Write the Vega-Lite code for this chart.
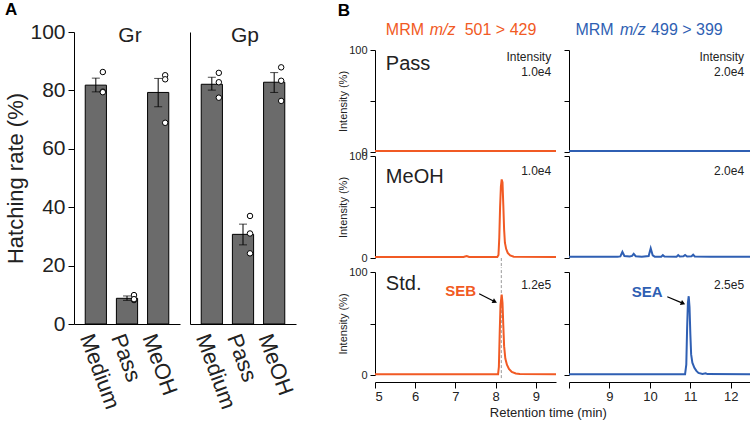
{
  "$schema": "https://vega.github.io/schema/vega-lite/v6.json",
  "background": "white",
  "padding": {"left": 4, "top": 1, "right": 0, "bottom": 0},
  "config": {
    "font": "Liberation Sans",
    "view": {"stroke": null},
    "axis": {"grid": false, "domainColor": "#000", "tickColor": "#000", "labelColor": "#222", "titleColor": "#222", "titleFontWeight": "normal", "labelFont": "Liberation Sans", "titleFont": "Liberation Sans"},
    "title": {"font": "Liberation Sans", "color": "#000"}
  },
  "datasets": {
    "bars": [
      {"group": "Gr", "treatment": "Medium", "mean": 81.8, "lo": 79.5, "hi": 84.2},
      {"group": "Gr", "treatment": "Pass", "mean": 8.8, "lo": 8.1, "hi": 9.6},
      {"group": "Gr", "treatment": "MeOH", "mean": 79.3, "lo": 74.4, "hi": 84.1},
      {"group": "Gp", "treatment": "Medium", "mean": 82.1, "lo": 80.1, "hi": 84.5},
      {"group": "Gp", "treatment": "Pass", "mean": 30.7, "lo": 27.1, "hi": 34.2},
      {"group": "Gp", "treatment": "MeOH", "mean": 82.8, "lo": 79.3, "hi": 86.1}
    ],
    "pts": [
      {"group": "Gr", "treatment": "Medium", "value": 86.3},
      {"group": "Gr", "treatment": "Medium", "value": 79.6},
      {"group": "Gr", "treatment": "Medium", "value": 79.4},
      {"group": "Gr", "treatment": "Pass", "value": 9.9},
      {"group": "Gr", "treatment": "Pass", "value": 8.2},
      {"group": "Gr", "treatment": "Pass", "value": 8.5},
      {"group": "Gr", "treatment": "MeOH", "value": 85.2},
      {"group": "Gr", "treatment": "MeOH", "value": 83.8},
      {"group": "Gr", "treatment": "MeOH", "value": 68.9},
      {"group": "Gp", "treatment": "Medium", "value": 86.0},
      {"group": "Gp", "treatment": "Medium", "value": 82.8},
      {"group": "Gp", "treatment": "Medium", "value": 77.5},
      {"group": "Gp", "treatment": "Pass", "value": 37.0},
      {"group": "Gp", "treatment": "Pass", "value": 31.0},
      {"group": "Gp", "treatment": "Pass", "value": 24.2},
      {"group": "Gp", "treatment": "MeOH", "value": 87.9},
      {"group": "Gp", "treatment": "MeOH", "value": 83.3},
      {"group": "Gp", "treatment": "MeOH", "value": 76.4}
    ],
    "chrom": [
      {"row": "Pass", "ch": "SEB", "t": 5, "v": 1}, {"row": "Pass", "ch": "SEB", "t": 6, "v": 1.1}, {"row": "Pass", "ch": "SEB", "t": 7, "v": 0.9}, {"row": "Pass", "ch": "SEB", "t": 8, "v": 1}, {"row": "Pass", "ch": "SEB", "t": 9, "v": 1.1}, {"row": "Pass", "ch": "SEB", "t": 9.5, "v": 1},
      {"row": "Pass", "ch": "SEA", "t": 8, "v": 1}, {"row": "Pass", "ch": "SEA", "t": 9, "v": 1.1}, {"row": "Pass", "ch": "SEA", "t": 10, "v": 0.9}, {"row": "Pass", "ch": "SEA", "t": 11, "v": 1}, {"row": "Pass", "ch": "SEA", "t": 12, "v": 1.1}, {"row": "Pass", "ch": "SEA", "t": 12.5, "v": 1},
      {"row": "MeOH", "ch": "SEB", "t": 5, "v": 1}, {"row": "MeOH", "ch": "SEB", "t": 7.2, "v": 1}, {"row": "MeOH", "ch": "SEB", "t": 7.28, "v": 2}, {"row": "MeOH", "ch": "SEB", "t": 7.34, "v": 1}, {"row": "MeOH", "ch": "SEB", "t": 8.04, "v": 1}, {"row": "MeOH", "ch": "SEB", "t": 8.07, "v": 3}, {"row": "MeOH", "ch": "SEB", "t": 8.09, "v": 20}, {"row": "MeOH", "ch": "SEB", "t": 8.11, "v": 50}, {"row": "MeOH", "ch": "SEB", "t": 8.13, "v": 70}, {"row": "MeOH", "ch": "SEB", "t": 8.15, "v": 77}, {"row": "MeOH", "ch": "SEB", "t": 8.17, "v": 74}, {"row": "MeOH", "ch": "SEB", "t": 8.19, "v": 52}, {"row": "MeOH", "ch": "SEB", "t": 8.21, "v": 28}, {"row": "MeOH", "ch": "SEB", "t": 8.23, "v": 15}, {"row": "MeOH", "ch": "SEB", "t": 8.26, "v": 9}, {"row": "MeOH", "ch": "SEB", "t": 8.3, "v": 5}, {"row": "MeOH", "ch": "SEB", "t": 8.36, "v": 2.5}, {"row": "MeOH", "ch": "SEB", "t": 8.45, "v": 1.2}, {"row": "MeOH", "ch": "SEB", "t": 9.5, "v": 1},
      {"row": "MeOH", "ch": "SEA", "t": 8, "v": 1.2}, {"row": "MeOH", "ch": "SEA", "t": 9.2, "v": 1.2}, {"row": "MeOH", "ch": "SEA", "t": 9.27, "v": 1.6}, {"row": "MeOH", "ch": "SEA", "t": 9.32, "v": 6}, {"row": "MeOH", "ch": "SEA", "t": 9.37, "v": 2}, {"row": "MeOH", "ch": "SEA", "t": 9.5, "v": 1.5}, {"row": "MeOH", "ch": "SEA", "t": 9.56, "v": 2}, {"row": "MeOH", "ch": "SEA", "t": 9.6, "v": 4}, {"row": "MeOH", "ch": "SEA", "t": 9.65, "v": 1.8}, {"row": "MeOH", "ch": "SEA", "t": 9.8, "v": 1.3}, {"row": "MeOH", "ch": "SEA", "t": 9.97, "v": 2}, {"row": "MeOH", "ch": "SEA", "t": 10.02, "v": 9.5}, {"row": "MeOH", "ch": "SEA", "t": 10.07, "v": 2.5}, {"row": "MeOH", "ch": "SEA", "t": 10.12, "v": 1.3}, {"row": "MeOH", "ch": "SEA", "t": 10.28, "v": 1.3}, {"row": "MeOH", "ch": "SEA", "t": 10.32, "v": 2.8}, {"row": "MeOH", "ch": "SEA", "t": 10.36, "v": 1.4}, {"row": "MeOH", "ch": "SEA", "t": 10.66, "v": 1.3}, {"row": "MeOH", "ch": "SEA", "t": 10.7, "v": 2.8}, {"row": "MeOH", "ch": "SEA", "t": 10.74, "v": 1.5}, {"row": "MeOH", "ch": "SEA", "t": 10.83, "v": 1.7}, {"row": "MeOH", "ch": "SEA", "t": 10.87, "v": 3}, {"row": "MeOH", "ch": "SEA", "t": 10.92, "v": 1.5}, {"row": "MeOH", "ch": "SEA", "t": 11.03, "v": 1.7}, {"row": "MeOH", "ch": "SEA", "t": 11.07, "v": 3.2}, {"row": "MeOH", "ch": "SEA", "t": 11.11, "v": 1.5}, {"row": "MeOH", "ch": "SEA", "t": 11.5, "v": 1.3}, {"row": "MeOH", "ch": "SEA", "t": 12.5, "v": 1.2},
      {"row": "Std", "ch": "SEB", "t": 5, "v": 0.8}, {"row": "Std", "ch": "SEB", "t": 8.06, "v": 0.8}, {"row": "Std", "ch": "SEB", "t": 8.08, "v": 8}, {"row": "Std", "ch": "SEB", "t": 8.1, "v": 40}, {"row": "Std", "ch": "SEB", "t": 8.12, "v": 68}, {"row": "Std", "ch": "SEB", "t": 8.15, "v": 78}, {"row": "Std", "ch": "SEB", "t": 8.17, "v": 70}, {"row": "Std", "ch": "SEB", "t": 8.19, "v": 48}, {"row": "Std", "ch": "SEB", "t": 8.21, "v": 28}, {"row": "Std", "ch": "SEB", "t": 8.24, "v": 16}, {"row": "Std", "ch": "SEB", "t": 8.28, "v": 10}, {"row": "Std", "ch": "SEB", "t": 8.33, "v": 6}, {"row": "Std", "ch": "SEB", "t": 8.4, "v": 3}, {"row": "Std", "ch": "SEB", "t": 8.5, "v": 1.5}, {"row": "Std", "ch": "SEB", "t": 8.6, "v": 1}, {"row": "Std", "ch": "SEB", "t": 9.5, "v": 0.8},
      {"row": "Std", "ch": "SEA", "t": 8, "v": 0.8}, {"row": "Std", "ch": "SEA", "t": 10.87, "v": 0.8}, {"row": "Std", "ch": "SEA", "t": 10.9, "v": 10}, {"row": "Std", "ch": "SEA", "t": 10.92, "v": 45}, {"row": "Std", "ch": "SEA", "t": 10.94, "v": 70}, {"row": "Std", "ch": "SEA", "t": 10.96, "v": 76.5}, {"row": "Std", "ch": "SEA", "t": 10.98, "v": 66}, {"row": "Std", "ch": "SEA", "t": 11.0, "v": 40}, {"row": "Std", "ch": "SEA", "t": 11.02, "v": 20}, {"row": "Std", "ch": "SEA", "t": 11.05, "v": 12}, {"row": "Std", "ch": "SEA", "t": 11.1, "v": 7}, {"row": "Std", "ch": "SEA", "t": 11.15, "v": 4}, {"row": "Std", "ch": "SEA", "t": 11.2, "v": 2}, {"row": "Std", "ch": "SEA", "t": 11.3, "v": 1}, {"row": "Std", "ch": "SEA", "t": 11.38, "v": 1.6}, {"row": "Std", "ch": "SEA", "t": 11.42, "v": 0.9}, {"row": "Std", "ch": "SEA", "t": 12.5, "v": 0.8}
    ]
  },
  "hconcat": [
    {
      "title": {"text": "A", "anchor": "start", "fontSize": 17, "fontWeight": "bold", "offset": 2},
      "spacing": 10,
      "bounds": "flush",
      "hconcat": [
        {
          "width": 106, "height": 292,
          "layer": [
            {"data": {"name": "bars"}, "transform": [{"filter": "datum.group === 'Gr'"}],
             "mark": {"type": "bar", "color": "#6b6b6b", "stroke": "#000", "strokeWidth": 1},
             "encoding": {
               "x": {"field": "treatment", "type": "nominal", "sort": ["Medium", "Pass", "MeOH"], "scale": {"paddingInner": 0.32, "paddingOuter": 0.36}, "axis": {"title": null, "labelAngle": 70, "labelAlign": "left", "labelBaseline": "top", "labelFontSize": 22, "ticks": false, "labelPadding": 7}},
               "y": {"field": "mean", "type": "quantitative", "scale": {"domain": [0, 100], "nice": false}, "axis": {"values": [0, 20, 40, 60, 80, 100], "tickSize": 6, "labelFontSize": 21, "labelPadding": 3, "title": "Hatching rate (%)", "titleFontSize": 22, "titlePadding": 2}}
             }},
            {"data": {"name": "bars"}, "transform": [{"filter": "datum.group === 'Gr'"}],
             "mark": {"type": "rule", "color": "#000", "strokeWidth": 1},
             "encoding": {"x": {"field": "treatment", "type": "nominal", "sort": ["Medium", "Pass", "MeOH"]}, "y": {"field": "lo", "type": "quantitative"}, "y2": {"field": "hi"}}},
            {"data": {"name": "bars"}, "transform": [{"filter": "datum.group === 'Gr'"}, {"fold": ["lo", "hi"], "as": ["k", "e"]}],
             "mark": {"type": "tick", "color": "#000", "size": 8, "thickness": 1},
             "encoding": {"x": {"field": "treatment", "type": "nominal", "sort": ["Medium", "Pass", "MeOH"]}, "y": {"field": "e", "type": "quantitative"}}},
            {"data": {"name": "pts"}, "transform": [{"filter": "datum.group === 'Gr'"}],
             "mark": {"type": "point", "filled": true, "fill": "#fff", "stroke": "#000", "strokeWidth": 1, "size": 30, "opacity": 1, "xOffset": 7},
             "encoding": {"x": {"field": "treatment", "type": "nominal", "sort": ["Medium", "Pass", "MeOH"]}, "y": {"field": "value", "type": "quantitative"}}},
            {"data": {"values": [{}]},
             "mark": {"type": "text", "fontSize": 21, "baseline": "alphabetic", "font": "Liberation Sans", "color": "#222", "dx": 3},
             "encoding": {"x": {"datum": "Pass"}, "y": {"datum": 96.7}, "text": {"value": "Gr"}}}
          ]
        },
        {
          "width": 106, "height": 292,
          "layer": [
            {"data": {"name": "bars"}, "transform": [{"filter": "datum.group === 'Gp'"}],
             "mark": {"type": "bar", "color": "#6b6b6b", "stroke": "#000", "strokeWidth": 1},
             "encoding": {
               "x": {"field": "treatment", "type": "nominal", "sort": ["Medium", "Pass", "MeOH"], "scale": {"paddingInner": 0.32, "paddingOuter": 0.36}, "axis": {"title": null, "labelAngle": 70, "labelAlign": "left", "labelBaseline": "top", "labelFontSize": 22, "ticks": false, "labelPadding": 7}},
               "y": {"field": "mean", "type": "quantitative", "scale": {"domain": [0, 100], "nice": false}, "axis": {"labels": false, "ticks": false, "title": null}}
             }},
            {"data": {"name": "bars"}, "transform": [{"filter": "datum.group === 'Gp'"}],
             "mark": {"type": "rule", "color": "#000", "strokeWidth": 1},
             "encoding": {"x": {"field": "treatment", "type": "nominal", "sort": ["Medium", "Pass", "MeOH"]}, "y": {"field": "lo", "type": "quantitative"}, "y2": {"field": "hi"}}},
            {"data": {"name": "bars"}, "transform": [{"filter": "datum.group === 'Gp'"}, {"fold": ["lo", "hi"], "as": ["k", "e"]}],
             "mark": {"type": "tick", "color": "#000", "size": 8, "thickness": 1},
             "encoding": {"x": {"field": "treatment", "type": "nominal", "sort": ["Medium", "Pass", "MeOH"]}, "y": {"field": "e", "type": "quantitative"}}},
            {"data": {"name": "pts"}, "transform": [{"filter": "datum.group === 'Gp'"}],
             "mark": {"type": "point", "filled": true, "fill": "#fff", "stroke": "#000", "strokeWidth": 1, "size": 30, "opacity": 1, "xOffset": 7},
             "encoding": {"x": {"field": "treatment", "type": "nominal", "sort": ["Medium", "Pass", "MeOH"]}, "y": {"field": "value", "type": "quantitative"}}},
            {"data": {"values": [{}]},
             "mark": {"type": "text", "fontSize": 21, "baseline": "alphabetic", "font": "Liberation Sans", "color": "#222", "dx": 2},
             "encoding": {"x": {"datum": "Pass"}, "y": {"datum": 96.7}, "text": {"value": "Gp"}}}
          ]
        }
      ]
    },
    {
      "title": {"text": "B", "anchor": "start", "fontSize": 17, "fontWeight": "bold", "offset": 2},
      "vconcat": [
        {
          "title": {"text": "Retention time (min)", "orient": "bottom", "fontSize": 13, "fontWeight": "normal", "anchor": "middle", "color": "#222", "offset": 4, "dx": 2},
          "spacing": 3,
          "hconcat": [
            {
              "spacing": 4,
              "bounds": "flush",
              "vconcat": [
                {
                  "width": 181, "height": 120,
                  "layer": [
                    {"data": {"name": "chrom"}, "transform": [{"filter": "datum.row === 'Pass' && datum.ch === 'SEB'"}],
                     "mark": {"type": "line", "color": "#f15a24", "strokeWidth": 2},
                     "encoding": {"x": {"field": "t", "type": "quantitative", "scale": {"domain": [5, 9.5], "nice": false, "zero": false}, "axis": null},
                                  "y": {"field": "v", "type": "quantitative", "scale": {"domain": [0, 100], "nice": false, "range": [120, 18]}, "axis": {"values": [0, 50, 100], "labelExpr": "datum.value === 50 ? '' : datum.label", "tickSize": 5, "labelFontSize": 11, "labelPadding": 3, "title": "Intensity (%)", "titleFontSize": 11, "titlePadding": 0}}}},
                    {"data": {"values": [{}]}, "mark": {"type": "text", "fontSize": 20, "align": "left", "baseline": "alphabetic", "color": "#222", "clip": false},
                     "encoding": {"x": {"datum": 5.27, "axis": null}, "y": {"datum": 80.4}, "text": {"value": "Pass"}}},
                    {"data": {"values": [{}]}, "mark": {"type": "text", "fontSize": 12, "align": "right", "baseline": "alphabetic", "color": "#222", "clip": false},
                     "encoding": {"x": {"datum": 9.38, "axis": null}, "y": {"datum": 89.5}, "text": {"value": "Intensity"}}},
                    {"data": {"values": [{}]}, "mark": {"type": "text", "fontSize": 12, "align": "right", "baseline": "alphabetic", "color": "#222", "clip": false},
                     "encoding": {"x": {"datum": 9.38, "axis": null}, "y": {"datum": 74.5}, "text": {"value": "1.0e4"}}},
                    {"data": {"values": [{}]}, "mark": {"type": "text", "fontSize": 16, "align": "left", "baseline": "alphabetic", "color": "#f15a24", "clip": false},
                     "encoding": {"x": {"datum": 5.27, "axis": null}, "y": {"datum": 114.7}, "text": {"value": "MRM"}}},
                    {"data": {"values": [{}]}, "mark": {"type": "text", "fontSize": 16, "fontStyle": "italic", "align": "left", "baseline": "alphabetic", "color": "#f15a24", "clip": false},
                     "encoding": {"x": {"datum": 6.36, "axis": null}, "y": {"datum": 114.7}, "text": {"value": "m/z"}}},
                    {"data": {"values": [{}]}, "mark": {"type": "text", "fontSize": 16, "align": "left", "baseline": "alphabetic", "color": "#f15a24", "clip": false},
                     "encoding": {"x": {"datum": 7.23, "axis": null}, "y": {"datum": 114.7}, "text": {"value": "501 > 429"}}}
                  ]
                },
                {
                  "width": 181, "height": 111.5,
                  "layer": [
                    {"data": {"values": [{}]}, "mark": {"type": "rule", "color": "#999", "strokeWidth": 1, "strokeDash": [3, 2], "clip": false},
                     "encoding": {"x": {"datum": 8.14, "axis": null}, "y": {"datum": 0}, "y2": {"datum": -9.5}}},
                    {"data": {"name": "chrom"}, "transform": [{"filter": "datum.row === 'MeOH' && datum.ch === 'SEB'"}],
                     "mark": {"type": "line", "color": "#f15a24", "strokeWidth": 2},
                     "encoding": {"x": {"field": "t", "type": "quantitative", "scale": {"domain": [5, 9.5], "nice": false, "zero": false}, "axis": null},
                                  "y": {"field": "v", "type": "quantitative", "scale": {"domain": [0, 100], "nice": false, "range": [102, 0]}, "axis": {"values": [0, 50, 100], "labelExpr": "datum.value === 50 ? '' : datum.label", "tickSize": 5, "labelFontSize": 11, "labelPadding": 3, "title": "Intensity (%)", "titleFontSize": 11, "titlePadding": 0}}}},
                    {"data": {"values": [{}]}, "mark": {"type": "text", "fontSize": 20, "align": "left", "baseline": "alphabetic", "color": "#222", "clip": false},
                     "encoding": {"x": {"datum": 5.27, "axis": null}, "y": {"datum": 73.4}, "text": {"value": "MeOH"}}},
                    {"data": {"values": [{}]}, "mark": {"type": "text", "fontSize": 12, "align": "right", "baseline": "alphabetic", "color": "#222", "clip": false},
                     "encoding": {"x": {"datum": 9.38, "axis": null}, "y": {"datum": 81.5}, "text": {"value": "1.0e4"}}}
                  ]
                },
                {
                  "width": 181, "height": 103,
                  "layer": [
                    {"data": {"values": [{}]}, "mark": {"type": "rule", "color": "#999", "strokeWidth": 1, "strokeDash": [3, 2], "clip": false},
                     "encoding": {"x": {"datum": 8.14}, "y": {"datum": -3}, "y2": {"datum": 104.5}}},
                    {"data": {"name": "chrom"}, "transform": [{"filter": "datum.row === 'Std' && datum.ch === 'SEB'"}],
                     "mark": {"type": "line", "color": "#f15a24", "strokeWidth": 2},
                     "encoding": {"x": {"field": "t", "type": "quantitative", "scale": {"domain": [5, 9.5], "nice": false, "zero": false}, "axis": {"values": [5, 5.5, 6, 6.5, 7, 7.5, 8, 8.5, 9, 9.5], "labelExpr": "datum.value % 1 === 0 ? datum.label : ''", "labelOverlap": false, "tickSize": {"condition": {"test": "datum.value % 1 === 0", "value": 6}, "value": 3}, "offset": 7, "title": null, "labelFontSize": 13, "labelPadding": 2}},
                                  "y": {"field": "v", "type": "quantitative", "scale": {"domain": [0, 100], "nice": false}, "axis": {"values": [0, 50, 100], "labelExpr": "datum.value === 50 ? '' : datum.label", "tickSize": 5, "labelFontSize": 11, "labelPadding": 3, "title": "Intensity (%)", "titleFontSize": 11, "titlePadding": 0}}}},
                    {"data": {"values": [{}]}, "mark": {"type": "text", "fontSize": 20, "align": "left", "baseline": "alphabetic", "color": "#222", "clip": false},
                     "encoding": {"x": {"datum": 5.27}, "y": {"datum": 83}, "text": {"value": "Std."}}},
                    {"data": {"values": [{}]}, "mark": {"type": "text", "fontSize": 12, "align": "right", "baseline": "alphabetic", "color": "#222", "clip": false},
                     "encoding": {"x": {"datum": 9.38}, "y": {"datum": 83.7}, "text": {"value": "1.2e5"}}},
                    {"data": {"values": [{}]}, "mark": {"type": "text", "fontSize": 15, "fontWeight": "bold", "align": "center", "baseline": "alphabetic", "color": "#f15a24", "clip": false},
                     "encoding": {"x": {"datum": 7.13}, "y": {"datum": 76.5}, "text": {"value": "SEB"}}},
                    {"data": {"values": [{}]}, "mark": {"type": "rule", "color": "#000", "strokeWidth": 1.2},
                     "encoding": {"x": {"datum": 7.59}, "y": {"datum": 78.9}, "x2": {"datum": 7.98}, "y2": {"datum": 71.2}}},
                    {"data": {"values": [{}]}, "mark": {"type": "point", "shape": "triangle-right", "angle": 26, "size": 28, "filled": true, "color": "#000", "opacity": 1},
                     "encoding": {"x": {"datum": 7.98}, "y": {"datum": 71.2}}}
                  ]
                }
              ]
            },
            {
              "spacing": 4,
              "bounds": "flush",
              "vconcat": [
                {
                  "width": 182, "height": 120,
                  "layer": [
                    {"data": {"name": "chrom"}, "transform": [{"filter": "datum.row === 'Pass' && datum.ch === 'SEA'"}],
                     "mark": {"type": "line", "color": "#2f5fb3", "strokeWidth": 2},
                     "encoding": {"x": {"field": "t", "type": "quantitative", "scale": {"domain": [8, 12.5], "nice": false, "zero": false}, "axis": null},
                                  "y": {"field": "v", "type": "quantitative", "scale": {"domain": [0, 100], "nice": false, "range": [120, 18]}, "axis": {"values": [0, 50, 100], "labels": false, "title": null, "tickSize": 5}}}},
                    {"data": {"values": [{}]}, "mark": {"type": "text", "fontSize": 12, "align": "right", "baseline": "alphabetic", "color": "#222", "clip": false},
                     "encoding": {"x": {"datum": 12.33, "axis": null}, "y": {"datum": 89.5}, "text": {"value": "Intensity"}}},
                    {"data": {"values": [{}]}, "mark": {"type": "text", "fontSize": 12, "align": "right", "baseline": "alphabetic", "color": "#222", "clip": false},
                     "encoding": {"x": {"datum": 12.33, "axis": null}, "y": {"datum": 74.5}, "text": {"value": "2.0e4"}}},
                    {"data": {"values": [{}]}, "mark": {"type": "text", "fontSize": 16, "align": "left", "baseline": "alphabetic", "color": "#2f5fb3", "clip": false},
                     "encoding": {"x": {"datum": 8.16, "axis": null}, "y": {"datum": 114.7}, "text": {"value": "MRM"}}},
                    {"data": {"values": [{}]}, "mark": {"type": "text", "fontSize": 16, "fontStyle": "italic", "align": "left", "baseline": "alphabetic", "color": "#2f5fb3", "clip": false},
                     "encoding": {"x": {"datum": 9.26, "axis": null}, "y": {"datum": 114.7}, "text": {"value": "m/z"}}},
                    {"data": {"values": [{}]}, "mark": {"type": "text", "fontSize": 16, "align": "left", "baseline": "alphabetic", "color": "#2f5fb3", "clip": false},
                     "encoding": {"x": {"datum": 10.03, "axis": null}, "y": {"datum": 114.7}, "text": {"value": "499 > 399"}}}
                  ]
                },
                {
                  "width": 182, "height": 111.5,
                  "layer": [
                    {"data": {"name": "chrom"}, "transform": [{"filter": "datum.row === 'MeOH' && datum.ch === 'SEA'"}],
                     "mark": {"type": "line", "color": "#2f5fb3", "strokeWidth": 2},
                     "encoding": {"x": {"field": "t", "type": "quantitative", "scale": {"domain": [8, 12.5], "nice": false, "zero": false}, "axis": null},
                                  "y": {"field": "v", "type": "quantitative", "scale": {"domain": [0, 100], "nice": false, "range": [102, 0]}, "axis": {"values": [0, 50, 100], "labels": false, "title": null, "tickSize": 5}}}},
                    {"data": {"values": [{}]}, "mark": {"type": "text", "fontSize": 12, "align": "right", "baseline": "alphabetic", "color": "#222", "clip": false},
                     "encoding": {"x": {"datum": 12.33, "axis": null}, "y": {"datum": 81.5}, "text": {"value": "2.0e4"}}}
                  ]
                },
                {
                  "width": 182, "height": 103,
                  "layer": [
                    {"data": {"name": "chrom"}, "transform": [{"filter": "datum.row === 'Std' && datum.ch === 'SEA'"}],
                     "mark": {"type": "line", "color": "#2f5fb3", "strokeWidth": 2},
                     "encoding": {"x": {"field": "t", "type": "quantitative", "scale": {"domain": [8, 12.5], "nice": false, "zero": false}, "axis": {"values": [8, 8.5, 9, 9.5, 10, 10.5, 11, 11.5, 12, 12.5], "labelExpr": "(datum.value % 1 === 0 && datum.value > 8 && datum.value < 12.5) ? datum.label : ''", "labelOverlap": false, "tickSize": {"condition": {"test": "datum.value % 1 === 0", "value": 6}, "value": 3}, "offset": 7, "title": null, "labelFontSize": 13, "labelPadding": 2}},
                                  "y": {"field": "v", "type": "quantitative", "scale": {"domain": [0, 100], "nice": false}, "axis": {"values": [0, 50, 100], "labels": false, "title": null, "tickSize": 5}}}},
                    {"data": {"values": [{}]}, "mark": {"type": "text", "fontSize": 12, "align": "right", "baseline": "alphabetic", "color": "#222", "clip": false},
                     "encoding": {"x": {"datum": 12.33}, "y": {"datum": 83.7}, "text": {"value": "2.5e5"}}},
                    {"data": {"values": [{}]}, "mark": {"type": "text", "fontSize": 15, "fontWeight": "bold", "align": "center", "baseline": "alphabetic", "color": "#2f5fb3", "clip": false},
                     "encoding": {"x": {"datum": 9.93}, "y": {"datum": 76}, "text": {"value": "SEA"}}},
                    {"data": {"values": [{}]}, "mark": {"type": "rule", "color": "#000", "strokeWidth": 1.2},
                     "encoding": {"x": {"datum": 10.43}, "y": {"datum": 76}, "x2": {"datum": 10.82}, "y2": {"datum": 69.5}}},
                    {"data": {"values": [{}]}, "mark": {"type": "point", "shape": "triangle-right", "angle": 23, "size": 28, "filled": true, "color": "#000", "opacity": 1},
                     "encoding": {"x": {"datum": 10.82}, "y": {"datum": 69.5}}}
                  ]
                }
              ]
            }
          ]
        }
      ]
    }
  ],
  "spacing": 40
}
